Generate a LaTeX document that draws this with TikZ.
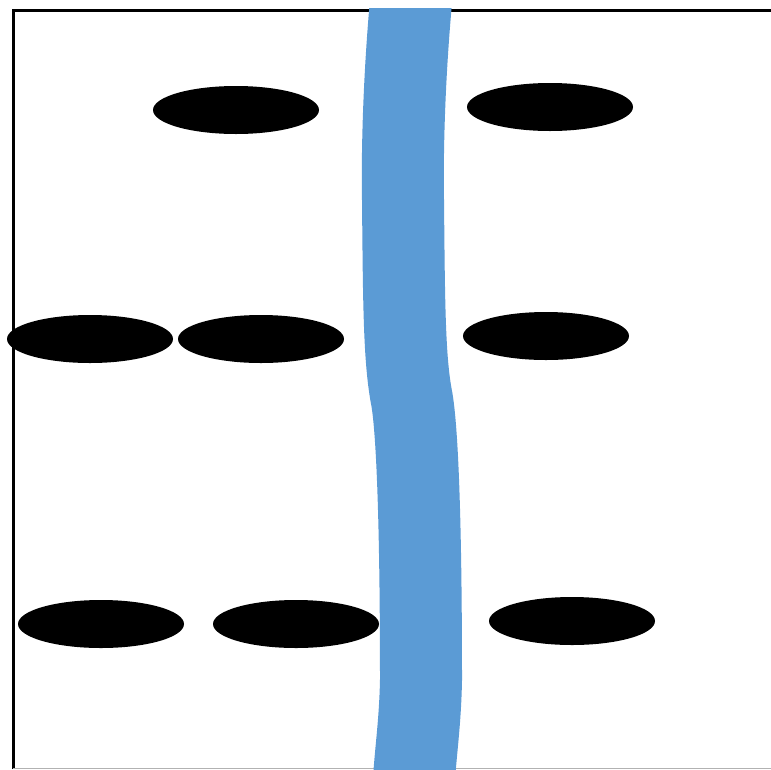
\documentclass[tikz,border=0pt]{standalone}
\usetikzlibrary{shapes.geometric}
\begin{document}
\begin{tikzpicture}[x=1pt,y=-1pt,
  blob/.style={ellipse,fill=black,draw=none,minimum width=166pt,minimum height=48pt,inner sep=0pt},
  frameline/.style={line width=3pt,black},
  river/.style={line width=82pt,draw={rgb,255:red,91;green,155;blue,213},line cap=butt}]
\useasboundingbox (0,0) rectangle (771,769);
\fill[white] (0,0) rectangle (771,769);
\draw[frameline] (13,769) -- (13,10) -- (771,10);
\draw[line width=0.8pt,gray!60] (13,768) -- (771,768);
\begin{scope}
\clip (0,8.5) rectangle (771,769);
\draw[river] (413,-20) .. controls (405,60) and (402,140) .. (403,200)
  .. controls (404,300) and (404,360) .. (412,400)
  .. controls (420,450) and (421,600) .. (421,680)
  .. controls (420,730) and (414,760) .. (413,800);
\end{scope}
\node[blob] (a) at (236,110) {};
\node[blob] (b) at (550,107) {};
\node[blob] (c) at (90,339) {};
\node[blob] (d) at (261,339) {};
\node[blob] (e) at (546,336) {};
\node[blob] (f) at (101,624) {};
\node[blob] (g) at (296,624) {};
\node[blob] (h) at (572,621) {};
\end{tikzpicture}
\end{document}
